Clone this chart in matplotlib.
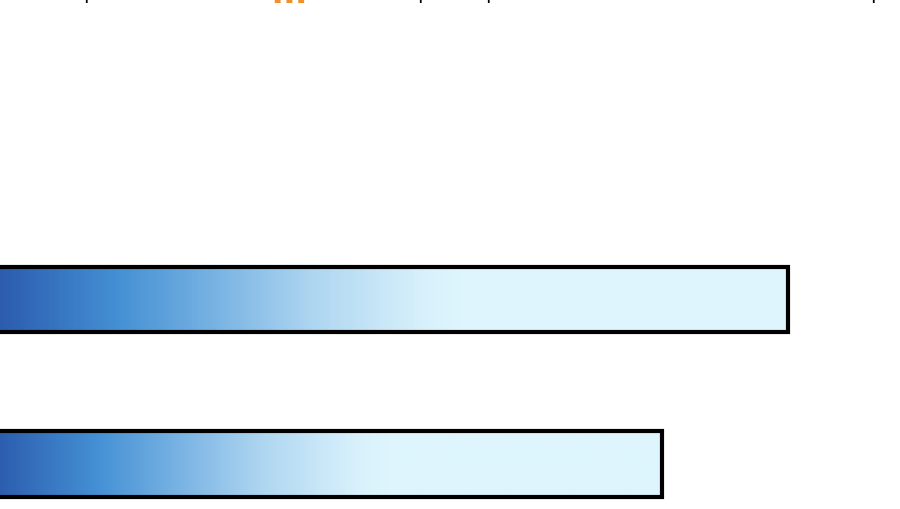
import matplotlib.pyplot as plt
import numpy as np
from matplotlib.colors import LinearSegmentedColormap

# dữ liệu (chỉ thấy 2 thanh cuối, phần trên bị cắt)
labels = ["A", "B"]
values = [100.2, 84.4]

# mảnh chữ bị cắt ở mép trên
top_marks_x = [86, 420, 488, 873]
top_marks = ["l", "l", "l", "l"]
top_orange_x = 289
top_orange = "m"

grad = LinearSegmentedColormap.from_list(
    "bar_grad",
    [(0.0, "#2a58ab"), (0.16, "#4490d4"), (0.30, "#80b8e5"),
     (0.41, "#b0d7f1"), (0.54, "#d6f0fb"), (0.59, "#def5fd"), (1.0, "#def5fd")],
)

fig = plt.figure(figsize=(9, 5.09), dpi=100)
ax = fig.add_axes([0, 0, 1, 1])
ax.axis("off")

pos = np.arange(len(values))
bars = ax.barh(pos, values, height=0.4, facecolor="none",
               edgecolor="black", linewidth=3, zorder=3)

g = np.linspace(0, 1, 256).reshape(1, -1)
for b in bars:
    x, y = b.get_x(), b.get_y()
    w, h = b.get_width(), b.get_height()
    im = ax.imshow(g, cmap=grad, aspect="auto", extent=(x, x + w, y, y + h),
                   zorder=2, interpolation="bicubic")
    im.set_clip_path(b)

# pixel mapping: 0 -> -12px, 100 -> 786px
px_per_unit = 798 / 100
x_left = 12 / px_per_unit
ax.set_xlim(x_left, x_left + 900 / px_per_unit)
step = 164.5
ax.set_ylim((509 - 299.5) / step, -299.5 / step)

for xm, t in zip(top_marks_x, top_marks):
    fig.text(xm / 900, 1 - 3 / 509, t, ha="center", va="baseline",
             fontsize=14, color="black")
fig.text(top_orange_x / 900, 1 - 3 / 509, top_orange, ha="center",
         va="baseline", fontsize=24, fontweight="bold", color="#f0902a")

fig.savefig("out.png", dpi=100)
